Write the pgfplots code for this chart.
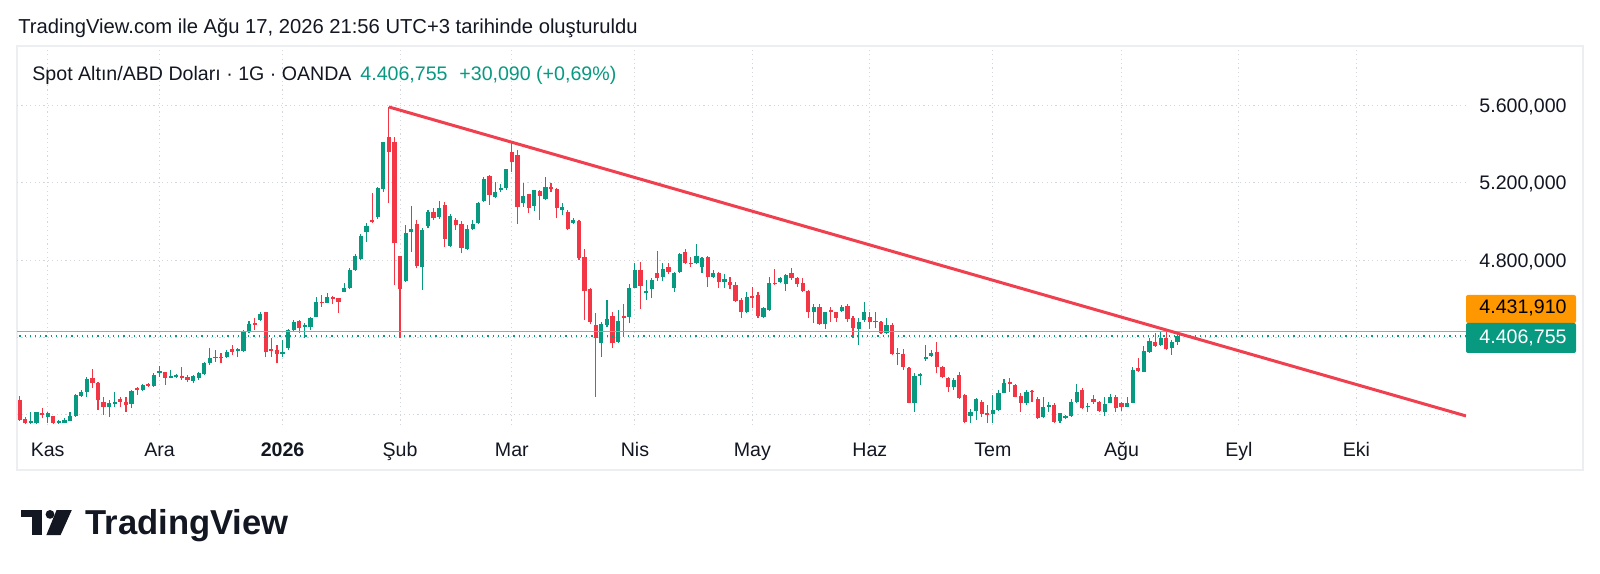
\documentclass[border=0pt]{standalone}
\usepackage{pgfplots}
\pgfplotsset{compat=1.18}
\usepackage{pgfplotstable}
\usepackage{fontspec}
\setmainfont{Liberation Sans}
\definecolor{tvgreen}{HTML}{089981}
\definecolor{tvred}{HTML}{F23645}
\definecolor{tvline}{HTML}{F0404F}
\definecolor{tvtext}{HTML}{131722}
\definecolor{tvorange}{HTML}{FF9800}
\definecolor{tvgrid}{HTML}{D3D6DD}
\definecolor{tvborder}{HTML}{ECEEF2}
\newcommand\tvfont{\fontsize{9.8}{12}\selectfont}

\pgfplotstableread{
i o h l c
2 3959 4016 3952 3970
3 3956 4016 3952 4013
5 3990 4016 3956 4008
7 3956 3973 3952 3970
8 3959 3982 3956 3973
9 3970 4013 3966 3996
10 3996 4106 3990 4104
11 4099 4128 4094 4120
12 4120 4197 4094 4185
16 4039 4076 3990 4059
17 4056 4120 4042 4068
20 4056 4128 4033 4123
22 4128 4159 4125 4154
24 4149 4214 4145 4206
25 4214 4254 4197 4226
27 4192 4231 4188 4200
28 4197 4211 4188 4204
31 4176 4206 4163 4200
32 4192 4223 4180 4214
33 4211 4271 4206 4266
34 4269 4343 4257 4292
35 4292 4335 4275 4300
37 4297 4335 4292 4326
39 4331 4343 4300 4338
40 4331 4438 4326 4433
41 4433 4486 4421 4469
43 4490 4533 4486 4521
47 4314 4387 4300 4325
48 4343 4443 4335 4438
49 4438 4490 4430 4481
51 4452 4473 4395 4464
52 4455 4507 4438 4498
53 4507 4610 4504 4585
55 4580 4628 4576 4610
58 4636 4679 4633 4657
59 4654 4757 4650 4748
60 4748 4831 4745 4821
61 4805 4932 4800 4926
62 4943 4990 4895 4977
64 5024 5179 5012 5174
65 5165 5411 5153 5408
69 4693 4981 4688 4938
70 4946 5079 4843 4958
72 4765 4964 4645 4955
73 4977 5058 4964 5050
75 5024 5105 5012 5070
77 4874 5036 4869 5029
80 4857 4981 4852 4960
81 4960 5007 4955 4984
82 4990 5101 4986 5096
83 5107 5231 5101 5219
85 5124 5205 5119 5153
86 5162 5191 5153 5174
87 5174 5270 5162 5268
90 5093 5196 5076 5131
92 5079 5162 5053 5160
94 5115 5231 5110 5179
97 5060 5095 5035 5075
99 4990 5015 4985 5005
104 4369 4478 4300 4468
105 4464 4593 4455 4495
107 4378 4542 4369 4485
109 4507 4674 4473 4657
110 4657 4783 4654 4748
112 4628 4697 4593 4640
113 4650 4705 4602 4697
115 4714 4783 4691 4754
117 4657 4740 4636 4731
118 4736 4835 4731 4829
121 4783 4881 4778 4821
122 4766 4817 4731 4809
124 4714 4748 4709 4731
126 4688 4726 4657 4700
130 4530 4636 4524 4611
133 4507 4559 4498 4550
134 4542 4714 4536 4679
136 4688 4714 4679 4705
137 4674 4726 4640 4722
142 4533 4571 4473 4559
144 4467 4533 4443 4529
147 4536 4567 4533 4559
150 4443 4498 4361 4481
151 4490 4585 4481 4529
153 4478 4529 4447 4485
155 4421 4502 4418 4464
157 4312 4343 4257 4321
160 4059 4214 4016 4202
161 4200 4214 4154 4209
162 4288 4361 4278 4297
163 4306 4335 4300 4321
167 4145 4188 4128 4180
170 3994 4028 3956 4016
171 4021 4085 3973 4080
174 4004 4102 3956 4025
175 4025 4128 4021 4111
176 4114 4183 4111 4166
180 4063 4128 4051 4120
183 3987 4090 3982 4042
184 4042 4068 4016 4051
186 3970 4011 3959 4008
187 3982 3999 3977 3994
188 3994 4080 3990 4068
189 4068 4159 4063 4120
191 4039 4063 4016 4046
194 4016 4090 3994 4056
195 4063 4107 4059 4090
198 4042 4090 4039 4063
199 4063 4245 4059 4231
201 4223 4356 4219 4331
202 4326 4395 4321 4383
204 4361 4435 4356 4395
206 4345 4385 4308 4376.665
207 4376.665 4428 4360 4406.755
}\greentab

\pgfplotstableread{
i o h l c
0 4076 4099 3970 3973
1 3978 3990 3952 3956
4 4011 4033 3982 3999
6 3994 3996 3952 3956
13 4192 4237 4137 4163
14 4166 4171 4025 4076
15 4064 4094 3999 4039
18 4082 4094 4042 4068
19 4068 4094 4016 4051
21 4137 4145 4102 4128
23 4157 4163 4145 4151
26 4219 4223 4154 4192
29 4200 4249 4180 4188
30 4194 4206 4171 4180
36 4300 4318 4266 4292
38 4338 4361 4309 4326
42 4473 4498 4438 4464
44 4533 4533 4297 4323
45 4338 4395 4300 4330
46 4335 4361 4266 4314
50 4486 4490 4421 4447
54 4585 4619 4559 4576
56 4610 4614 4573 4597
57 4605 4605 4528 4585
63 5007 5145 4990 4995
66 5437 5592 5093 5360
67 5408 5437 4671 4886
68 4821 4821 4395 4650
71 4984 5007 4757 4769
74 5050 5067 5007 5015
76 5084 5101 4869 4909
78 5007 5019 4955 4981
79 4986 5000 4834 4864
84 5236 5239 5084 5136
88 5356 5403 5256 5305
89 5343 5368 4986 5076
91 5139 5139 5041 5067
93 5158 5162 5007 5131
95 5179 5196 5153 5165
96 5165 5170 5015 5067
98 5050 5060 4955 4962
100 5000 5005 4800 4809
101 4814 4855 4490 4642
102 4650 4654 4468 4481
103 4464 4524 4094 4395
106 4512 4533 4344 4369
108 4512 4571 4412 4502
111 4748 4791 4547 4666
114 4731 4847 4691 4705
116 4762 4783 4726 4740
119 4840 4857 4778 4783
120 4786 4817 4766 4778
123 4817 4822 4662 4710
125 4731 4740 4657 4685
127 4685 4714 4650 4671
128 4671 4688 4585 4588
129 4593 4602 4502 4530
131 4616 4662 4550 4602
132 4619 4636 4499 4512
135 4683 4753 4671 4674
138 4731 4760 4697 4705
139 4709 4714 4662 4674
140 4679 4705 4636 4640
141 4640 4645 4502 4529
143 4559 4571 4464 4467
145 4542 4559 4481 4533
146 4529 4533 4481 4502
148 4564 4571 4481 4495
149 4498 4512 4395 4447
152 4507 4533 4443 4478
154 4478 4485 4418 4421
156 4464 4473 4309 4312
158 4314 4340 4231 4249
159 4244 4247 4059 4063
164 4323 4374 4214 4249
165 4249 4252 4188 4197
166 4192 4197 4116 4145
168 4206 4223 4082 4085
169 4102 4107 3956 3965
172 4068 4076 3987 4004
173 4008 4051 3956 3999
177 4171 4188 4120 4159
178 4154 4159 4090 4094
179 4097 4111 4016 4063
181 4123 4128 4068 4116
182 4080 4090 3977 3982
185 4051 4059 3959 3965
190 4128 4137 4028 4033
192 4080 4102 4056 4068
193 4068 4073 4016 4021
196 4090 4102 4016 4033
197 4059 4068 4021 4042
200 4240 4292 4223 4228
203 4378 4421 4352 4356
205 4395 4435 4335 4338
}\redtab

\begin{document}
\begin{tikzpicture}
\useasboundingbox (0pt,0pt) rectangle (800pt,286.5pt);
\fill[white] (0pt,0pt) rectangle (800pt,286.5pt);
\draw[tvborder, line width=0.6pt] (8.5pt,263.5pt) rectangle (791.5pt,51.5pt);
\begin{axis}[
  at={(8.5pt,74pt)}, anchor=south west,
  scale only axis, width=724.5pt, height=189pt,
  xmin=-0.483, xmax=258.6, ymin=3947.3, ymax=5900.8,
  axis line style={draw=none},
  tick style={draw=none},
  xtick={5,25,47,68,88,110,131,152,174,197,218,239},
  xticklabels={Kas,Ara,\textbf{2026},Şub,Mar,Nis,May,Haz,Tem,Ağu,Eyl,Eki},
  ytick={4000,4400,4800,5200,5600},
  yticklabels={{},{},{4.800,000},{5.200,000},{5.600,000}},
  yticklabel pos=right,
  grid=major,
  major grid style={tvgrid, line width=0.5pt, dash pattern=on 0.6pt off 1.6pt},
  xticklabel style={anchor=base, yshift=-15.5pt, font=\tvfont, text=tvtext, inner sep=0pt},
  yticklabel style={anchor=base east, xshift=50.5pt, yshift=-3.5pt, font=\tvfont, text=tvtext, inner sep=0pt},
]
% wicks
\addplot[forget plot, draw=none, no markers,
  error bars/.cd, y dir=plus, y explicit, error mark=none,
  error bar style={draw=tvgreen, solid, line width=0.55pt}]
  table[x=i, y=l, y error expr=\thisrow{h}-\thisrow{l}] {\greentab};
\addplot[forget plot, draw=none, no markers,
  error bars/.cd, y dir=plus, y explicit, error mark=none,
  error bar style={draw=tvred, solid, line width=0.55pt}]
  table[x=i, y=l, y error expr=\thisrow{h}-\thisrow{l}] {\redtab};
% bodies
\addplot[forget plot, draw=none, no markers,
  error bars/.cd, y dir=plus, y explicit, error mark=none,
  error bar style={draw=tvgreen, solid, line width=2.1pt}]
  table[x=i, y=o, y error expr=\thisrow{c}-\thisrow{o}] {\greentab};
\addplot[forget plot, draw=none, no markers,
  error bars/.cd, y dir=plus, y explicit, error mark=none,
  error bar style={draw=tvred, solid, line width=2.1pt}]
  table[x=i, y=c, y error expr=\thisrow{o}-\thisrow{c}] {\redtab};
% price lines
\addplot[forget plot, tvgreen, line width=0.6pt, dash pattern=on 0.6pt off 2pt] coordinates {(-1,4406.755) (260,4406.755)};
\addplot[forget plot, tvorange, line width=0.6pt] coordinates {(-1,4431.91) (260,4431.91)};
% trend line
\addplot[forget plot, tvline, line width=1.5pt] coordinates {(66,5591) (258.6,3994)};
\end{axis}
% header
\node[anchor=base west, inner sep=0pt, text=tvtext, font=\fontsize{10.1}{12}\selectfont] at (9pt,269.9pt) {TradingView.com ile Ağu 17, 2026 21:56 UTC+3 tarihinde oluşturuldu};
\node[anchor=base west, inner sep=0pt, text=tvtext, font=\tvfont] at (16pt,246.2pt) {Spot Altın/ABD Doları · 1G · OANDA};
\node[anchor=base west, inner sep=0pt, text=tvgreen, font=\tvfont] at (180pt,246.2pt) {4.406,755};
\node[anchor=base west, inner sep=0pt, text=tvgreen, font=\tvfont] at (229.5pt,246.2pt) {+30,090 (+0,69\%)};
% price boxes
\fill[tvorange, rounded corners=1pt] (733pt,125pt) rectangle (788pt,139pt);
\fill[tvgreen, rounded corners=1pt] (733pt,110pt) rectangle (788pt,125pt);
\node[anchor=base east, inner sep=0pt, text=black, font=\tvfont] at (783.5pt,129.7pt) {4.431,910};
\node[anchor=base east, inner sep=0pt, text=white, font=\tvfont] at (783.5pt,114.7pt) {4.406,755};
% logo
\fill[tvtext] (10.35pt,31.5pt) rectangle (20.85pt,27.85pt);
\fill[tvtext] (15.85pt,31.5pt) rectangle (20.85pt,19pt);
\fill[tvtext] (25pt,29.3pt) circle (2.2pt);
\fill[tvtext] (28.3pt,31.5pt) -- (35.9pt,31.5pt) -- (30.3pt,19pt) -- (23.2pt,19pt) -- cycle;
\node[anchor=base west, inner sep=0pt, text=tvtext, font=\fontsize{17.3}{19}\selectfont\bfseries] at (42.5pt,19.5pt) {TradingView};
\end{tikzpicture}
\end{document}
